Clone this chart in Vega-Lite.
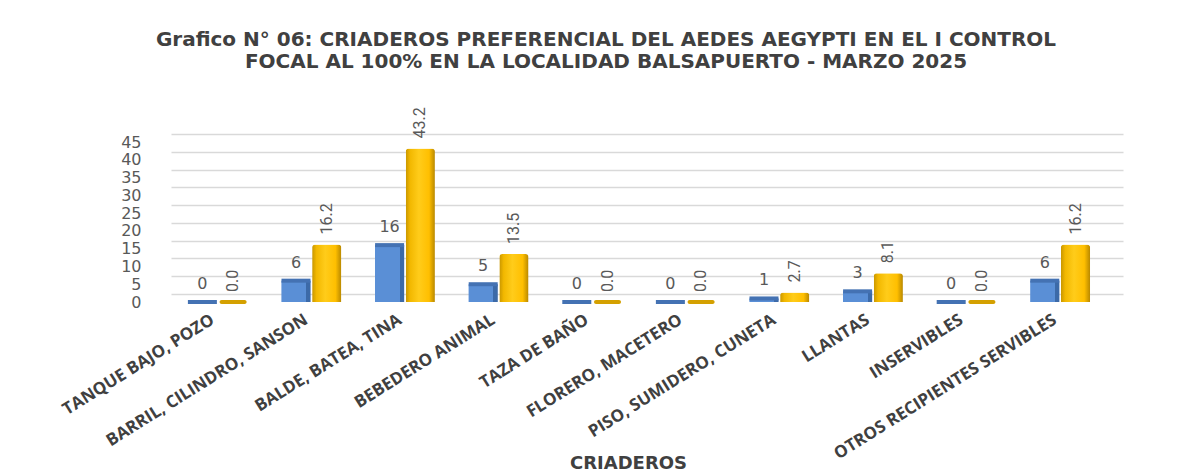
{
  "$schema": "https://vega.github.io/schema/vega-lite/v6.json",
  "autosize": {"type": "none"},
  "padding": {"left": 171, "top": 134, "right": 67, "bottom": 169},
  "width": 952,
  "height": 168,
  "background": "white",
  "title": {
    "text": ["Grafico N° 06: CRIADEROS PREFERENCIAL DEL AEDES AEGYPTI EN EL I CONTROL", "FOCAL AL 100% EN LA LOCALIDAD BALSAPUERTO - MARZO 2025"],
    "font": "DejaVu Sans",
    "fontSize": 20,
    "fontWeight": "bold",
    "color": "#404040",
    "anchor": "middle",
    "lineHeight": 22,
    "dx": -41,
    "dy": -31
  },
  "data": {
    "values": [
      {"criadero": "TANQUE BAJO, POZO", "serie": "Cantidad", "valor": 0},
      {"criadero": "TANQUE BAJO, POZO", "serie": "Porcentaje", "valor": 0.0},
      {"criadero": "BARRIL, CILINDRO, SANSON", "serie": "Cantidad", "valor": 6},
      {"criadero": "BARRIL, CILINDRO, SANSON", "serie": "Porcentaje", "valor": 16.2},
      {"criadero": "BALDE, BATEA, TINA", "serie": "Cantidad", "valor": 16},
      {"criadero": "BALDE, BATEA, TINA", "serie": "Porcentaje", "valor": 43.2},
      {"criadero": "BEBEDERO ANIMAL", "serie": "Cantidad", "valor": 5},
      {"criadero": "BEBEDERO ANIMAL", "serie": "Porcentaje", "valor": 13.5},
      {"criadero": "TAZA DE BAÑO", "serie": "Cantidad", "valor": 0},
      {"criadero": "TAZA DE BAÑO", "serie": "Porcentaje", "valor": 0.0},
      {"criadero": "FLORERO, MACETERO", "serie": "Cantidad", "valor": 0},
      {"criadero": "FLORERO, MACETERO", "serie": "Porcentaje", "valor": 0.0},
      {"criadero": "PISO, SUMIDERO, CUNETA", "serie": "Cantidad", "valor": 1},
      {"criadero": "PISO, SUMIDERO, CUNETA", "serie": "Porcentaje", "valor": 2.7},
      {"criadero": "LLANTAS", "serie": "Cantidad", "valor": 3},
      {"criadero": "LLANTAS", "serie": "Porcentaje", "valor": 8.1},
      {"criadero": "INSERVIBLES", "serie": "Cantidad", "valor": 0},
      {"criadero": "INSERVIBLES", "serie": "Porcentaje", "valor": 0.0},
      {"criadero": "OTROS RECIPIENTES SERVIBLES", "serie": "Cantidad", "valor": 6},
      {"criadero": "OTROS RECIPIENTES SERVIBLES", "serie": "Porcentaje", "valor": 16.2}
    ]
  },
  "encoding": {
    "x": {
      "field": "criadero",
      "type": "nominal",
      "sort": null,
      "title": "CRIADEROS",
      "scale": {"paddingInner": 0.36, "paddingOuter": 0.2655, "align": 0.338},
      "axis": {
        "domain": false,
        "ticks": false,
        "labelAngle": -32,
        "labelAlign": "right",
        "labelBaseline": "middle",
        "labelFont": "Open Sans",
        "labelFontSize": 17,
        "labelFontWeight": "bold",
        "labelColor": "#404040",
        "labelPadding": 16,
        "labelOffset": -5,
        "labelLimit": 400,
        "titleFont": "DejaVu Sans",
        "titleFontSize": 18,
        "titleFontWeight": "bold",
        "titleColor": "#404040",
        "titleX": 457,
        "titleY": 161,
        "titleBaseline": "middle"
      }
    },
    "xOffset": {"field": "serie", "type": "nominal", "scale": {"paddingInner": 0.05}}
  },
  "layer": [
    {
      "transform": [{"filter": "datum.serie === 'Porcentaje'"}],
      "mark": {"type": "point", "opacity": 0},
      "encoding": {
        "y": {
          "field": "valor",
          "type": "quantitative",
          "title": null,
          "scale": {"domain": [-2.25, 45], "nice": false, "zero": false},
          "axis": {
            "orient": "right",
            "values": [0, 5, 10, 15, 20, 25, 30, 35, 40, 45],
            "domain": false,
            "ticks": false,
            "labels": false,
            "grid": true,
            "gridColor": "#d9d9d9",
            "gridWidth": 1.5
          }
        }
      }
    },
    {
      "encoding": {
        "y": {
          "field": "valor",
          "type": "quantitative",
          "title": null,
          "scale": {"domain": [0, 47.25], "nice": false},
          "axis": {
            "orient": "left",
            "values": [0, 5, 10, 15, 20, 25, 30, 35, 40, 45],
            "domain": false,
            "ticks": false,
            "grid": false,
            "labelFont": "DejaVu Sans",
            "labelFontSize": 16,
            "labelColor": "#595959",
            "labelPadding": 30
          }
        }
      },
      "layer": [
        {
          "transform": [{"filter": "datum.serie === 'Cantidad'"}],
          "mark": {
            "type": "bar",
            "color": {
              "gradient": "linear", "x1": 0, "y1": 0, "x2": 1, "y2": 0,
              "stops": [
                {"offset": 0, "color": "#5a8fd6"},
                {"offset": 0.84, "color": "#5a8fd6"},
                {"offset": 0.84, "color": "#3c6aa8"},
                {"offset": 1, "color": "#3c6aa8"}
              ]
            }
          }
        },
        {
          "transform": [{"filter": "datum.serie === 'Cantidad'"}],
          "mark": {"type": "tick", "orient": "horizontal", "thickness": 4, "size": 29, "color": "#4472b3", "opacity": 1}
        },
        {
          "transform": [{"filter": "datum.serie === 'Porcentaje'"}],
          "mark": {
            "type": "bar",
            "cornerRadiusTopLeft": 3,
            "cornerRadiusTopRight": 3,
            "color": {
              "gradient": "linear", "x1": 0, "y1": 0, "x2": 1, "y2": 0,
              "stops": [
                {"offset": 0, "color": "#c89600"},
                {"offset": 0.15, "color": "#f2b800"},
                {"offset": 0.45, "color": "#ffcc1a"},
                {"offset": 0.8, "color": "#ffbf00"},
                {"offset": 1, "color": "#b88800"}
              ]
            }
          }
        },
        {
          "transform": [{"filter": "datum.serie === 'Porcentaje' && datum.valor === 0"}],
          "mark": {"type": "tick", "orient": "horizontal", "thickness": 4, "size": 27, "cornerRadius": 2, "color": "#d4a000", "opacity": 1}
        },
        {
          "transform": [{"filter": "datum.serie === 'Cantidad'"}],
          "mark": {"type": "text", "font": "DejaVu Sans", "fontSize": 16, "color": "#595959", "baseline": "bottom", "dy": -10},
          "encoding": {"text": {"field": "valor", "type": "quantitative", "format": "d"}}
        },
        {
          "transform": [{"filter": "datum.serie === 'Porcentaje'"}],
          "mark": {"type": "text", "font": "Roboto", "fontSize": 16, "color": "#595959", "angle": 270, "align": "left", "baseline": "middle", "dx": 10},
          "encoding": {"text": {"field": "valor", "type": "quantitative", "format": ".1f"}}
        }
      ]
    }
  ],
  "resolve": {"scale": {"y": "independent"}},
  "config": {"view": {"stroke": null}}
}
